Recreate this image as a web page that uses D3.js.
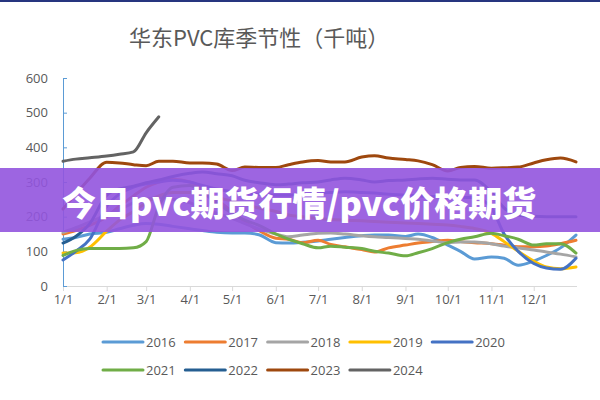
<!DOCTYPE html>
<html>
<head>
<meta charset="utf-8">
<script src="https://cdn.jsdelivr.net/npm/d3@7/dist/d3.min.js"></script>
<style>
  body { margin: 0; background: #fff; }
  text { font-family: "Noto Sans CJK SC", "Noto Sans", sans-serif; }
</style>
</head>
<body>
<div id="vis"></div>
<script>
var title = '华东PVC库季节性（千吨）';
var banner = '今日pvc期货行情/pvc价格期货';

var years = ['2016', '2017', '2018', '2019', '2020', '2021', '2022', '2023', '2024'];

// sample dates (every ~10 days)
var dates = ['1/1','1/10','1/20','2/1','2/10','2/20','3/1','3/10','3/20','4/1','4/10','4/20',
             '5/1','5/10','5/20','6/1','6/10','6/20','7/1','7/10','7/20','8/1','8/10','8/20',
             '9/1','9/10','9/20','10/1','10/10','10/20','11/1','11/10','11/20','12/1','12/10','12/20','12/31'];

var s2016 = [135,140,150,155,165,175,180,178,172,165,160,155,153,153,148,125,124,126,
             130,135,140,145,147,147,143,150,140,118,100,78,84,80,60,72,88,110,147];
var s2017 = [150,160,175,200,230,260,285,300,308,300,280,250,215,185,160,138,135,125,
             132,120,113,105,98,110,118,124,128,132,128,125,122,118,113,113,115,122,132];
var s2018 = [155,168,185,205,220,240,250,255,250,240,225,210,195,180,165,150,142,147,
             152,153,150,145,142,140,137,135,130,125,127,127,122,115,110,104,98,92,84];
var s2019 = [95,96,112,158,190,215,240,260,270,270,265,255,245,235,225,215,205,200,
             195,192,190,188,186,184,182,180,178,176,172,166,152,128,100,72,55,50,55];
var s2020 = [75,100,135,230,265,285,295,300,305,300,290,280,272,268,265,262,262,265,
             268,270,272,270,268,265,262,260,258,258,256,255,225,150,100,65,52,48,80];
var s2021 = [88,102,108,108,108,110,128,230,285,290,270,240,210,190,175,150,135,122,
             110,115,112,108,100,95,87,96,108,125,135,142,152,145,135,118,122,122,95];
var s2022 = [124,143,180,262,280,288,298,306,316,325,329,324,318,305,298,292,294,298,
             300,306,311,306,300,304,306,309,311,308,306,306,270,225,205,201,200,200,200];
var s2023 = [222,265,311,357,355,350,347,360,360,355,355,352,333,343,342,342,350,358,
             362,358,358,372,376,369,365,361,350,332,342,345,340,341,343,355,364,369,358];
var s2024 = [360,366,370,375,380,387,442,488];

var yTicks = [0, 100, 200, 300, 400, 500, 600];
var monthTicks = ['1/1','2/1','3/1','4/1','5/1','6/1','7/1','8/1','9/1','10/1','11/1','12/1'];

var colors = ['#5b9bd5', '#ed7d31', '#a5a5a5', '#ffc000', '#4472c4',
              '#70ad47', '#255e91', '#9e480e', '#636363'];

var series = [s2016, s2017, s2018, s2019, s2020, s2021, s2022, s2023, s2024];

var width = 600, height = 400;
var margin = { left: 63, right: 23, top: 78, bottom: 114 };
var drawWidth = width - margin.left - margin.right,
    drawHeight = height - margin.top - margin.bottom;

var parse = (s) => {
    var p = s.split('/');
    return new Date(2023, +p[0] - 1, +p[1]);
};

var svg = d3.select('#vis')
            .append('svg')
            .attr('width', width)
            .attr('height', height);

svg.append('rect').attr('width', width).attr('height', height).attr('fill', '#fff');
svg.append('rect').attr('width', width).attr('height', 2).attr('fill', '#26357f');

svg.append('text')
   .attr('x', 129)
   .attr('y', 46)
   .attr('font-size', 22)
   .attr('fill', '#595959')
   .text(title);

var g = svg.append('g')
           .attr('transform', `translate(${margin.left}, ${margin.top})`);

var xScale = d3.scaleTime()
               .domain([new Date(2023, 0, 1), new Date(2023, 11, 31)])
               .range([0, drawWidth - 1]);

var yScale = d3.scaleLinear()
               .domain([0, 600])
               .range([drawHeight, 0]);

// x axis
var xAxis = d3.axisBottom(xScale)
              .tickValues(monthTicks.map(parse))
              .tickSize(5)
              .tickFormat((d) => (d.getMonth() + 1) + '/1');

var xAxisG = g.append('g')
              .attr('transform', `translate(0, ${drawHeight})`)
              .call(xAxis);
xAxisG.select('.domain').attr('stroke', '#d9d9d9').attr('d', `M0,0.5H${drawWidth}`);
xAxisG.selectAll('.tick line').attr('stroke', '#d9d9d9');
xAxisG.selectAll('.tick text')
      .attr('fill', '#595959')
      .attr('font-size', 13)
      .attr('y', 9)
      .style('font-family', '"Open Sans", sans-serif');

// y axis
var yAxis = d3.axisLeft(yScale)
              .tickValues(yTicks)
              .tickSize(-4)
              .tickPadding(15);

var yAxisG = g.append('g').call(yAxis);
yAxisG.select('.domain').attr('stroke', '#5b9bd5');
yAxisG.selectAll('.tick line').attr('stroke', '#5b9bd5');
yAxisG.selectAll('.tick text')
      .attr('fill', '#595959')
      .attr('font-size', 13)
      .style('font-family', '"Open Sans", sans-serif');

var line = d3.line()
             .defined((d) => d.v != null)
             .x((d) => xScale(d.date))
             .y((d) => yScale(d.v))
             .curve(d3.curveMonotoneX);

series.forEach((vals, i) => {
    var pts = vals.map((v, j) => ({ date: parse(dates[j]), v: v }));
    g.append('path')
     .datum(pts)
     .attr('fill', 'none')
     .attr('stroke', colors[i])
     .attr('stroke-width', 3)
     .attr('stroke-linejoin', 'round')
     .attr('stroke-linecap', 'round')
     .attr('d', line);
});

// legend
var legend = svg.append('g');
years.forEach((y, i) => {
    var row = i < 5 ? 0 : 1;
    var col = i < 5 ? i : i - 5;
    var lx = 103 + col * 82.3,
        ly = row === 0 ? 342 : 370;
    legend.append('line')
          .attr('x1', lx).attr('x2', lx + 40)
          .attr('y1', ly).attr('y2', ly)
          .attr('stroke', colors[i])
          .attr('stroke-width', 3)
          .attr('stroke-linecap', 'round');
    legend.append('text')
          .attr('x', lx + 43)
          .attr('y', ly + 5)
          .attr('font-size', 13)
          .attr('fill', '#595959')
          .style('font-family', '"Open Sans", sans-serif')
          .text(y);
});

// overlay banner
svg.append('rect')
   .attr('x', 0).attr('y', 168)
   .attr('width', width).attr('height', 64)
   .attr('fill', '#9254de')
   .attr('opacity', 0.9);

svg.append('text')
   .attr('x', 62)
   .attr('y', 216)
   .attr('font-size', 34)
   .attr('font-weight', 900)
   .attr('fill', '#fff')
   .text(banner);
</script>
</body>
</html>
